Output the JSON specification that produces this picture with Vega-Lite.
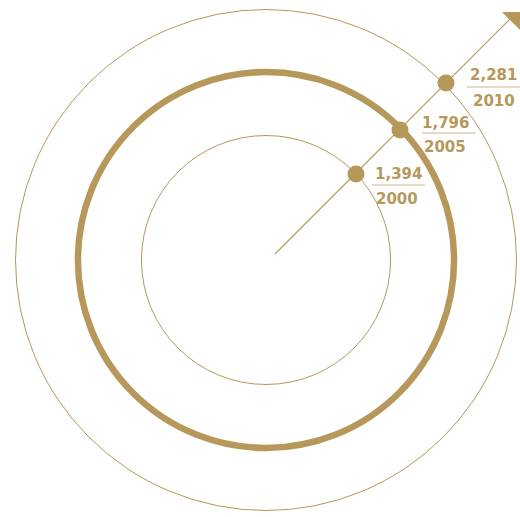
{
  "$schema": "https://vega.github.io/schema/vega-lite/v6.json",
  "width": 520,
  "height": 517,
  "autosize": {"type": "none"},
  "padding": 0,
  "background": "white",
  "config": {"view": {"stroke": null}},
  "datasets": {
    "years": [
      {"year": 2000, "value": 1394, "x": 90, "y": 86, "r": 124.5},
      {"year": 2005, "value": 1796, "x": 134, "y": 130, "r": 188},
      {"year": 2010, "value": 2281, "x": 180, "y": 177, "r": 250.5}
    ],
    "arrow": [
      {"x": 9, "y": 6, "x2": 246, "y2": 243, "hx": 245.5, "hy": 238.5}
    ]
  },
  "layer": [
    {
      "data": {"name": "years"},
      "mark": {"type": "arc", "filled": false, "stroke": "#b5985a", "theta": 0, "theta2": 6.2832},
      "encoding": {
        "x": {"datum": 0, "type": "quantitative", "scale": {"domain": [-266, 254], "nice": false, "zero": false}, "axis": null},
        "y": {"datum": 0, "type": "quantitative", "scale": {"domain": [-257, 260], "nice": false, "zero": false}, "axis": null},
        "radius": {"field": "r", "type": "quantitative", "stack": null, "scale": {"type": "linear", "domain": [0, 250], "range": [0, 250], "zero": true}},
        "strokeWidth": {"condition": {"test": "datum.year === 2005", "value": 6.5}, "value": 1}
      }
    },
    {
      "data": {"name": "arrow"},
      "mark": {"type": "rule", "color": "#b5985a", "strokeWidth": 1.2},
      "encoding": {
        "x": {"field": "x", "type": "quantitative"},
        "y": {"field": "y", "type": "quantitative"},
        "x2": {"field": "x2"},
        "y2": {"field": "y2"}
      }
    },
    {
      "data": {"name": "arrow"},
      "mark": {"type": "point", "filled": true, "shape": "M1,-1L1,1L-1,-1Z", "size": 361, "color": "#b5985a", "opacity": 1},
      "encoding": {
        "x": {"field": "hx", "type": "quantitative"},
        "y": {"field": "hy", "type": "quantitative"}
      }
    },
    {
      "data": {"name": "years"},
      "mark": {"type": "point", "filled": true, "shape": "circle", "size": 289, "color": "#b5985a", "opacity": 1},
      "encoding": {
        "x": {"field": "x", "type": "quantitative"},
        "y": {"field": "y", "type": "quantitative"}
      }
    },
    {
      "data": {"name": "years"},
      "mark": {
        "type": "text", "align": "left", "baseline": "alphabetic", "font": "DejaVu Sans", "fontWeight": "bold", "fontSize": 15, "color": "#b5985a",
        "dx": {"expr": "datum.year == 2000 ? 19 : datum.year == 2005 ? 22 : 24"},
        "dy": {"expr": "datum.year == 2000 ? 5 : datum.year == 2005 ? -2 : -3"}
      },
      "encoding": {
        "x": {"field": "x", "type": "quantitative"},
        "y": {"field": "y", "type": "quantitative"},
        "text": {"field": "value", "type": "quantitative", "format": ","}
      }
    },
    {
      "data": {"name": "years"},
      "mark": {
        "type": "text", "align": "left", "baseline": "alphabetic", "font": "DejaVu Sans", "fontWeight": "bold", "fontSize": 15, "color": "#b5985a",
        "dx": {"expr": "datum.year == 2000 ? 20 : datum.year == 2005 ? 24 : 27"},
        "dy": {"expr": "datum.year == 2000 ? 30 : datum.year == 2005 ? 22 : 23"}
      },
      "encoding": {
        "x": {"field": "x", "type": "quantitative"},
        "y": {"field": "y", "type": "quantitative"},
        "text": {"field": "year", "type": "nominal"}
      }
    },
    {
      "data": {"name": "years"},
      "mark": {
        "type": "rule", "color": "#c9b68c", "strokeWidth": 1,
        "xOffset": {"expr": "datum.year == 2000 ? 16 : datum.year == 2005 ? 22 : 21"},
        "x2Offset": {"expr": "datum.year == 2000 ? 69 : datum.year == 2005 ? 76 : 74"},
        "yOffset": {"expr": "datum.year == 2000 ? 11 : datum.year == 2005 ? 3 : 4"},
        "y2Offset": {"expr": "datum.year == 2000 ? 11 : datum.year == 2005 ? 3 : 4"}
      },
      "encoding": {
        "x": {"field": "x", "type": "quantitative"},
        "y": {"field": "y", "type": "quantitative"},
        "x2": {"field": "x"},
        "y2": {"field": "y"}
      }
    }
  ]
}
